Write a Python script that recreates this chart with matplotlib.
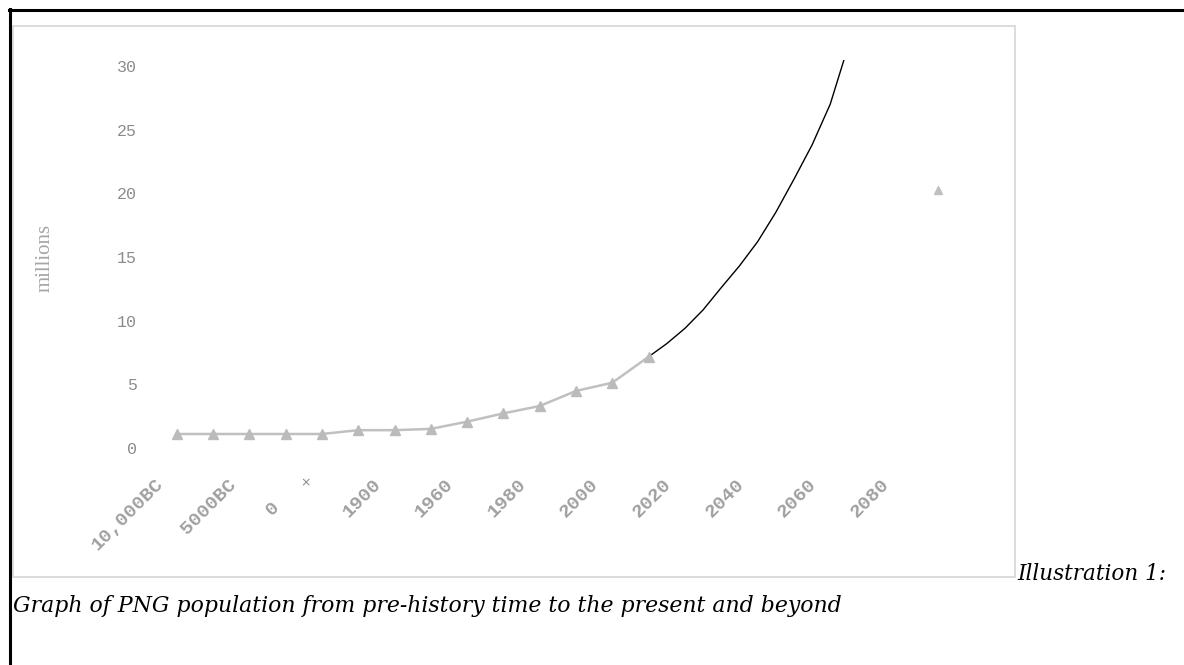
import matplotlib
matplotlib.use("Agg")
import matplotlib.pyplot as plt
from matplotlib.lines import Line2D
from matplotlib.patches import Rectangle
from matplotlib.transforms import ScaledTranslation

# Data (population in millions)
categories = ["10,000BC", "8000BC", "5000BC", "2500BC", "0", "1000", "1900", "1940",
              "1960", "1970", "1980", "1990", "2000", "2010", "2020", "2030", "2040",
              "2050", "2060", "2070", "2080"]
actual_idx = list(range(14))
actual_vals = [1.1, 1.1, 1.1, 1.1, 1.1, 1.4, 1.4, 1.5, 2.07, 2.72, 3.3, 4.48, 5.13, 7.17]
# projected curve at half-category steps
proj_idx = [13, 13.5, 14, 14.5, 15, 15.5, 16, 16.5, 17, 17.5, 18, 18.5]
proj_vals = [7.17, 8.2, 9.4, 10.85, 12.6, 14.3, 16.2, 18.5, 21.1, 23.8, 27.0, 31.6]
y_ticks = [0, 5, 10, 15, 20, 25, 30]

W, H = 1184, 665


def fx(px):
    return px / W


def fy(py):
    return 1 - py / H


fig = plt.figure(figsize=(W / 100, H / 100), dpi=100)

# page borders and chart frame
fig.add_artist(Line2D([fx(9), 1], [fy(10), fy(10)], color="black", lw=2.2,
                      transform=fig.transFigure))
fig.add_artist(Line2D([fx(10), fx(10)], [fy(9), 0], color="black", lw=2.2,
                      transform=fig.transFigure))
fig.add_artist(Rectangle((fx(13), fy(577)), fx(1015) - fx(13), fy(26) - fy(577),
                         fill=False, edgecolor="#D9D9D9", lw=1.3,
                         transform=fig.transFigure))

ax = fig.add_axes([fx(158.5), fy(448), fx(921) - fx(158.5), fy(60) - fy(448)])
ax.plot(proj_idx, proj_vals, color="black", lw=1.0, zorder=2)
ax.plot(actual_idx, actual_vals, color="#C0C0C0", lw=1.8, marker="^",
        markersize=6.5, markerfacecolor="#BBBBBB", markeredgecolor="#BBBBBB", zorder=3)

ax.set_xlim(-0.5, len(categories) - 0.5)
ax.set_ylim(0, 30.47)
for s in ax.spines.values():
    s.set_visible(False)

ax.set_yticks(y_ticks)
ax.set_yticklabels([str(v) for v in y_ticks], fontfamily="Liberation Mono",
                   fontsize=12, color="#8C8C8C")
ax.tick_params(axis="y", length=0, pad=15.5)

ax.set_xticks(range(0, len(categories), 2))
ax.set_xticklabels(categories[::2], rotation=45, ha="right", va="center",
                   rotation_mode="anchor", fontfamily="Liberation Mono",
                   fontweight="bold", fontsize=14, color="#A0A0A0")
ax.tick_params(axis="x", length=0, pad=25)
for lab in ax.get_xticklabels():
    dx, dy = -0.16, 0.01
    if lab.get_text() == "0":
        dx, dy = -0.45, -0.22
    lab.set_transform(lab.get_transform() + ScaledTranslation(dx, dy, fig.dpi_scale_trans))

ax.annotate("\u00d7", xy=(4, 0), xycoords=("data", "axes fraction"),
            xytext=(-12, -25), textcoords="offset points", ha="center", va="center",
            fontsize=9, color="#888888")

ax.set_ylabel("millions", fontfamily="Liberation Serif", fontsize=15, color="#A6A6A6")
ax.yaxis.set_label_coords(-(158.5 - 55) / (921 - 158.5), (448 - 258) / 388)

fig.legend(handles=[Line2D([0], [0], marker="^", color="#BFBFBF", linestyle="none",
                           markersize=6)],
           labels=[" "], loc="center left", bbox_to_anchor=(fx(924), fy(191)),
           frameon=False, handlelength=1.0, handletextpad=0, borderpad=0, fontsize=10)

fig.text(fx(1017), fy(580), "Illustration 1:", fontfamily="DejaVu Serif",
         style="italic", fontsize=15.5, va="baseline")
fig.text(fx(13), fy(612), "Graph of PNG population from pre-history time to the present and beyond",
         fontfamily="DejaVu Serif", style="italic", fontsize=15.8, va="baseline")

fig.savefig("out.png", dpi=100)
